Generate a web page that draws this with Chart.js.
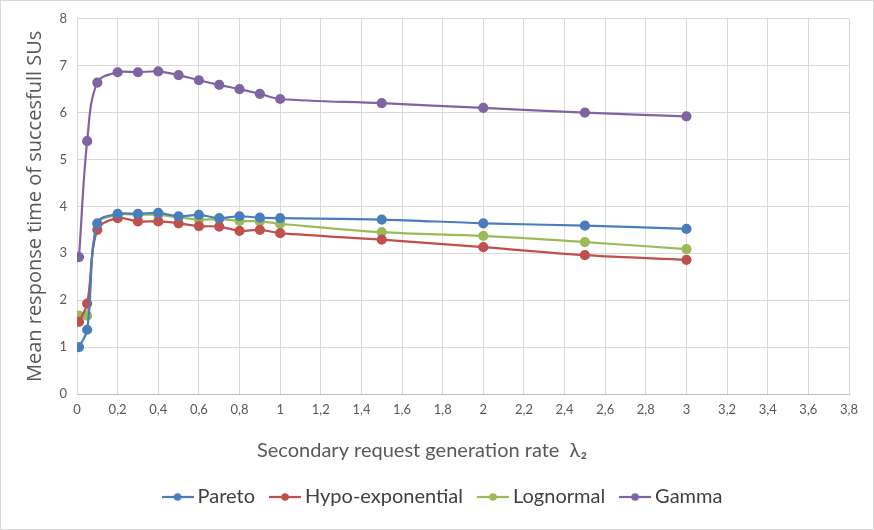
<!DOCTYPE html>
<html>
<head>
<meta charset="utf-8">
<script src="https://cdn.jsdelivr.net/npm/chart.js@4/dist/chart.umd.min.js"></script>
<style>
  body { margin: 0; background: #fff; }
  #wrap { width: 872px; height: 528px; border: 1px solid #d9d9d9; }
</style>
</head>
<body>
<div id="wrap"><canvas id="chart" width="872" height="528"></canvas></div>
<script>
const rates = [0.01, 0.05, 0.1, 0.2, 0.3, 0.4, 0.5, 0.6, 0.7, 0.8, 0.9, 1, 1.5, 2, 2.5, 3];
const pareto = [1.0, 1.37, 3.64, 3.84, 3.84, 3.86, 3.79, 3.82, 3.75, 3.79, 3.76, 3.75, 3.72, 3.64, 3.59, 3.52];
const hypoExp = [1.54, 1.93, 3.5, 3.75, 3.68, 3.68, 3.64, 3.58, 3.57, 3.48, 3.5, 3.43, 3.29, 3.13, 2.96, 2.86];
const lognormal = [1.67, 1.67, 3.62, 3.82, 3.82, 3.82, 3.77, 3.72, 3.73, 3.69, 3.68, 3.63, 3.45, 3.37, 3.24, 3.09];
const gamma = [2.92, 5.39, 6.64, 6.86, 6.86, 6.88, 6.8, 6.69, 6.59, 6.5, 6.4, 6.29, 6.2, 6.1, 6.0, 5.92];
const seriesNames = ["Pareto", "Hypo-exponential", "Lognormal", "Gamma"];
const colors = ["#4a7ebb", "#c0504d", "#9bbb59", "#8064a2"];

function pts(vals) {
  return vals.map((v, i) => ({ x: rates[i], y: v }));
}

// little line+dot marker for the legend, like Excel's
function legendMark(color) {
  const c = document.createElement("canvas");
  c.width = 32; c.height = 10;
  const g = c.getContext("2d");
  g.strokeStyle = color; g.lineWidth = 2.2;
  g.beginPath(); g.moveTo(0, 5); g.lineTo(32, 5); g.stroke();
  g.fillStyle = color;
  g.beginPath(); g.arc(16, 5, 3.8, 0, Math.PI * 2); g.fill();
  return c;
}

// the legend sits a bit right of centre in the original
const shiftLegend = {
  id: "shiftLegend",
  afterLayout(chart) {
    chart.legend.left += 20;
    chart.legend.right += 20;
  },
};

const allSeries = [pareto, hypoExp, lognormal, gamma];
const datasets = allSeries.map((vals, i) => ({
  label: seriesNames[i],
  data: pts(vals),
  borderColor: colors[i],
  backgroundColor: colors[i],
  borderWidth: 2.2,
  pointRadius: 4,
  pointHoverRadius: 4,
  tension: 0.35,
}));

new Chart(document.getElementById("chart"), {
  type: "line",
  data: { datasets: datasets },
  plugins: [shiftLegend],
  options: {
    responsive: false,
    animation: false,
    layout: { padding: { top: 17, right: 24, left: 0, bottom: 12 } },
    plugins: {
      tooltip: { enabled: false },
      legend: {
        position: "bottom",
        labels: {
          color: "#404040",
          font: { family: "Lato", size: 20 },
          boxWidth: 32,
          padding: 20,
          generateLabels: (chart) => chart.data.datasets.map((ds, i) => ({
            text: ds.label,
            pointStyle: legendMark(colors[i]),
            fontColor: "#404040",
            strokeStyle: colors[i],
            fillStyle: colors[i],
            lineWidth: 0,
            datasetIndex: i,
          })),
          usePointStyle: true,
        },
      },
    },
    scales: {
      x: {
        type: "linear",
        min: 0,
        max: 3.8,
        ticks: {
          stepSize: 0.2,
          color: "#595959",
          font: { family: "Lato", size: 13 },
          maxRotation: 0,
          padding: 8,
          callback: (v) => String(Math.round(v * 10) / 10).replace(".", ","),
        },
        grid: { color: "#d9d9d9", drawTicks: false },
        border: { color: "#bfbfbf" },
        title: {
          display: true,
          // trailing spaces push the title left, as in the original
          text: "Secondary request generation rate  λ₂                ",
          color: "#595959",
          font: { family: "Lato", size: 20 },
          padding: { top: 14 },
        },
        afterFit: (s) => { s.height = 73; },
      },
      y: {
        min: 0,
        max: 8,
        ticks: {
          stepSize: 1,
          color: "#595959",
          font: { family: "Lato", size: 13 },
          padding: 10,
        },
        grid: { color: "#d9d9d9", drawTicks: false },
        border: { display: false },
        title: {
          display: true,
          text: "Mean response time of succesfull SUs",
          color: "#595959",
          font: { family: "Open Sans", size: 20 },
          padding: { top: 22 },
        },
        afterFit: (s) => { s.width = 76; },
      },
    },
  },
});
</script>
</body>
</html>
